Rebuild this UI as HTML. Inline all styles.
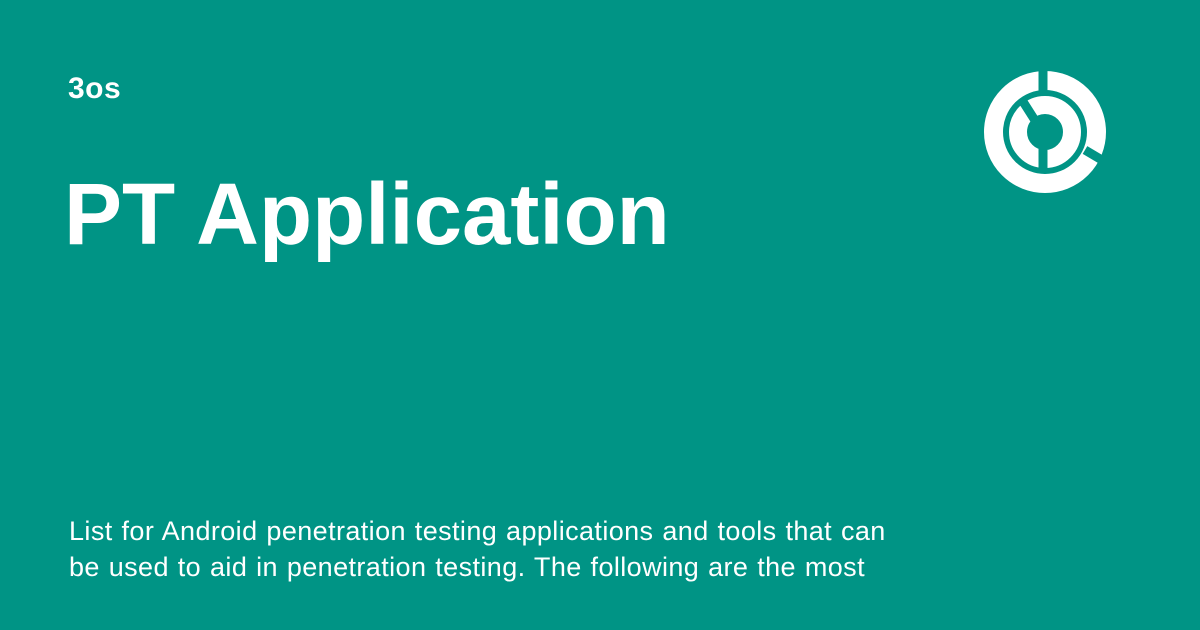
<html><body style="margin:0;width:1200px;height:630px;background:#009485;position:relative;overflow:hidden;font-family:'Liberation Sans',sans-serif;color:#fff">
<div style="position:absolute;left:68px;top:72px;font-size:30px;font-weight:bold;letter-spacing:0.5px">3os</div>
<div style="position:absolute;left:64px;top:165px;font-size:87px;font-weight:bold;letter-spacing:0px">PT Application</div>
<div style="position:absolute;left:69px;top:513px;font-size:27px;line-height:36px;width:850px;letter-spacing:0.4px;word-spacing:1px">List for Android penetration testing applications and tools that can be used to aid in penetration testing. The following are the most</div>
<svg style="position:absolute;left:0;top:0" width="1200" height="630">
<circle cx="1045" cy="132" r="51.5" fill="none" stroke="#fff" stroke-width="19"/>
<circle cx="1045" cy="132" r="27" fill="none" stroke="#fff" stroke-width="18"/>
<g stroke="#009485" stroke-width="9">
<line x1="1043" y1="65" x2="1043" y2="92"/>
<line x1="1085" y1="150" x2="1112" y2="166"/>
<line x1="1022" y1="100" x2="1036" y2="122"/>
<line x1="1043" y1="145" x2="1043" y2="172"/>
</g>
</svg>
</body></html>
